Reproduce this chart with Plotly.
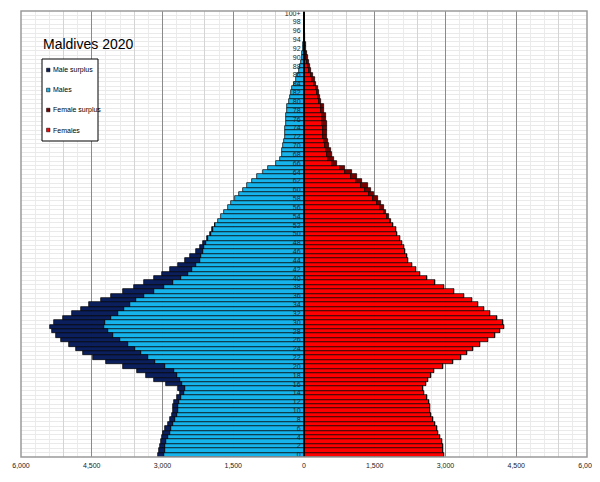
import numpy as np
import plotly.graph_objects as go

# Maldives population by single year of age, 2020
ages = list(range(101))
age_labels = [str(a) if a < 100 else "100+" for a in range(0, 101, 2)]

males = [
    3090, 3075, 3054, 3033, 3005, 2984, 2948, 2892, 2842, 2807,
    2786, 2771, 2757, 2687, 2630, 2665, 2934, 3174, 3358, 3535,
    3846, 4200, 4468, 4694, 4836, 4977, 5147, 5260, 5338, 5387,
    5295, 5105, 4921, 4735, 4556, 4306, 4086, 3836, 3599, 3386,
    3181, 3010, 2850, 2680, 2520, 2420, 2300, 2210, 2140, 2060,
    2000, 1950, 1890, 1825, 1770, 1700, 1610, 1545, 1460, 1375,
    1287, 1202, 1096, 990, 862, 756, 585, 515, 477, 460,
    438, 417, 405, 400, 393, 389, 386, 380, 360, 350,
    320, 295, 270, 245, 212, 177, 150, 110, 80, 62,
    50, 38, 28, 18, 10, 6, 4, 2, 1, 1,
    1,
]

females = [
    2970, 2955, 2941, 2920, 2885, 2849, 2828, 2778, 2743, 2687,
    2672, 2672, 2660, 2600, 2540, 2515, 2578, 2635, 2690, 2750,
    2938, 3163, 3318, 3460, 3574, 3722, 3906, 4055, 4165, 4250,
    4210, 4083, 3948, 3822, 3695, 3570, 3401, 3189, 2976, 2779,
    2612, 2460, 2372, 2294, 2213, 2184, 2145, 2117, 2070, 2032,
    1982, 1940, 1877, 1841, 1802, 1735, 1693, 1622, 1562, 1488,
    1417, 1347, 1240, 1131, 1007, 870, 690, 630, 583, 566,
    533, 502, 490, 481, 481, 485, 470, 460, 430, 415,
    370, 345, 315, 290, 255, 225, 190, 155, 127, 100,
    78, 60, 45, 32, 20, 13, 9, 6, 4, 2,
    2,
]

x_ticks = [-6000, -4500, -3000, -1500, 0, 1500, 3000, 4500, 6000]
x_tick_text = ["6,000", "4,500", "3,000", "1,500", "0", "1,500", "3,000", "4,500", "6,000"]

legend_names = ["Male surplus", "Males", "Female surplus", "Females"]
colors = {
    "Male surplus": "#0a1f5c",
    "Males": "#16b4ec",
    "Female surplus": "#7a0000",
    "Females": "#ff0000",
}

m = np.array(males)
f = np.array(females)
common = np.minimum(m, f)
male_surplus = np.clip(m - f, 0, None)
female_surplus = np.clip(f - m, 0, None)

# the page body adds an 8px margin, so the figure is a bit smaller than the window
W, H = 592, 474
ML, MR, MT, MB = 13, 13, 3, 25
PLOT_W = W - ML - MR
PLOT_H = H - MT - MB


def px(xp):
    # window pixel -> paper x
    return (xp - 8 - ML) / PLOT_W


def py(yp):
    # window pixel -> paper y
    return (H + 8 - MB - yp) / PLOT_H


bar_line = dict(color="black", width=0.7)
fig = go.Figure()
fig.add_trace(go.Bar(y=ages, x=-common, orientation="h", name="Males",
                     marker=dict(color=colors["Males"], line=bar_line)))
fig.add_trace(go.Bar(y=ages, x=-male_surplus, orientation="h", name="Male surplus",
                     marker=dict(color=colors["Male surplus"], line=bar_line)))
fig.add_trace(go.Bar(y=ages, x=common, orientation="h", name="Females",
                     marker=dict(color=colors["Females"], line=bar_line)))
fig.add_trace(go.Bar(y=ages, x=female_surplus, orientation="h", name="Female surplus",
                     marker=dict(color=colors["Female surplus"], line=bar_line)))
# helper trace so the second (grid only) x axis is drawn
fig.add_trace(go.Scatter(x=[0], y=[0], xaxis="x2", mode="markers",
                         marker=dict(opacity=0), hoverinfo="skip"))

fig.update_layout(
    width=W, height=H,
    margin=dict(l=ML, r=MR, t=MT, b=MB, autoexpand=False),
    paper_bgcolor="white", plot_bgcolor="white",
    barmode="relative", bargap=0,
    showlegend=False,
    font=dict(family="Liberation Sans, Arial, sans-serif", color="#222222"),
    xaxis=dict(
        range=[-6000, 6000], tickvals=x_ticks, ticktext=x_tick_text,
        tickfont=dict(size=7), ticks="", showline=False, zeroline=False,
        automargin=False, ticklabelstandoff=3,
        showgrid=True, gridcolor="#8a8a8a", gridwidth=1,
        minor=dict(dtick=300, tick0=0, showgrid=True, gridcolor="#ebebeb", gridwidth=1),
    ),
    xaxis2=dict(
        overlaying="x", range=[-6000, 6000], tick0=900, dtick=1500,
        showgrid=True, gridcolor="#d4d4d4", gridwidth=1, automargin=False,
        showticklabels=False, ticks="", zeroline=False, showline=False,
    ),
    yaxis=dict(
        range=[-0.5, 100.5], tickvals=list(range(0, 101, 2)), ticktext=age_labels,
        tickfont=dict(size=7, color="#222222"), ticks="", ticklabelstandoff=2,
        anchor="free", position=0.5, showline=True, linecolor="black", linewidth=1,
        showgrid=False, zeroline=False, automargin=False,
        minor=dict(tick0=0.5, dtick=1, showgrid=True, gridcolor="#eaeaea", gridwidth=1),
    ),
)

# plot frame
fig.add_shape(type="rect", xref="paper", yref="paper", x0=0, x1=1, y0=0, y1=1,
              line=dict(color="#9a9a9a", width=1.5), layer="above")

# title
fig.add_annotation(text="Maldives 2020", xref="paper", yref="paper",
                   x=px(41), y=py(44), xanchor="left", yanchor="middle",
                   showarrow=False, font=dict(size=14, color="black"))

# legend box
fig.add_shape(type="rect", xref="paper", yref="paper",
              x0=px(42), x1=px(98), y0=py(141), y1=py(59),
              line=dict(color="black", width=1), fillcolor="white", layer="above")
for i, name in enumerate(legend_names):
    yc = 70 + 20 * i
    fig.add_shape(type="rect", xref="paper", yref="paper",
                  x0=px(46.5), x1=px(50), y0=py(yc + 1.8), y1=py(yc - 1.8),
                  line=dict(color="black", width=0.5), fillcolor=colors[name],
                  layer="above")
    fig.add_annotation(text=name, xref="paper", yref="paper",
                       x=px(51), y=py(yc), xanchor="left", yanchor="middle",
                       showarrow=False, font=dict(size=7, color="black"))

fig.write_html("out.html")
